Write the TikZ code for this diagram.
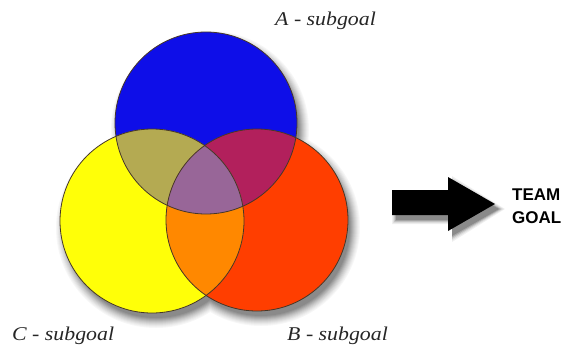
\documentclass[tikz,border=0pt]{standalone}
\usepackage{fontspec}
\newfontfamily\labfont{Liberation Serif}[FakeStretch=1.12]
\newfontfamily\goalfont{Liberation Sans}
\definecolor{cblue}{RGB}{14,14,232}
\definecolor{cyellow}{RGB}{255,255,8}
\definecolor{cred}{RGB}{255,62,0}
\definecolor{colive}{RGB}{180,170,82}
\definecolor{ccrimson}{RGB}{178,32,92}
\definecolor{corange}{RGB}{255,136,0}
\definecolor{cpurple}{RGB}{152,102,152}
\definecolor{cedge}{RGB}{70,55,40}
\tikzset{
  sublabel/.style={anchor=base west,inner sep=0pt,font=\labfont\itshape\fontsize{19.5}{22}\selectfont,text=black!85},
  goallabel/.style={anchor=base west,inner sep=0pt,font=\goalfont\bfseries\fontsize{17}{19}\selectfont},
  rim/.style={draw=cedge,line width=0.8pt}
}
\begin{document}
\begin{tikzpicture}[x=1pt,y=-1pt]
\useasboundingbox (0,0) rectangle (571,346);
\coordinate (A) at (206,123);
\coordinate (C) at (152,221);
\coordinate (B) at (257,220);
\def\ra{91}\def\rc{92}\def\rb{91}
% soft shadows
\foreach \k/\g in {8/3,7/6,6/9,5/13,4/17,3/21,2/26,1/31,0/36,-1/41,-2/46}{
  \fill[black!\g] ([shift={(4,7)}]A) circle[radius=\ra+\k];
  \fill[black!\g] ([shift={(4,7)}]C) circle[radius=\rc+\k];
  \fill[black!\g] ([shift={(4,7)}]B) circle[radius=\rb+\k];
}
% arrow shadow
\foreach \k/\g in {4/6,3/12,2/22,1/34,0/46}{
  \fill[black!\g] (392+4-\k,190+5-\k) -- (448+4,190+5-\k) -- (448+4,177+5-\k*1.5) -- (495+4+\k*1.5,204+5) -- (448+4,231+5+\k*1.5) -- (448+4,215+5+\k) -- (392+4-\k,215+5+\k) -- cycle;
}
% circles
\fill[cblue] (A) circle[radius=\ra];
\fill[cyellow] (C) circle[radius=\rc];
\fill[cred] (B) circle[radius=\rb];
\begin{scope}
  \clip (A) circle[radius=\ra];
  \fill[colive] (C) circle[radius=\rc];
  \fill[ccrimson] (B) circle[radius=\rb];
\end{scope}
\begin{scope}
  \clip (C) circle[radius=\rc];
  \fill[corange] (B) circle[radius=\rb];
  \clip (A) circle[radius=\ra];
  \fill[cpurple] (B) circle[radius=\rb];
\end{scope}
\draw[rim] (A) circle[radius=\ra];
\draw[rim] (C) circle[radius=\rc];
\draw[rim] (B) circle[radius=\rb];
% arrow
\fill[black] (392,190) -- (448,190) -- (448,177) -- (495,204) -- (448,231) -- (448,215) -- (392,215) -- cycle;
% labels
\node[sublabel] (la) at (275,25) {A - subgoal};
\node[sublabel] (lc) at (12,340) {C - subgoal};
\node[sublabel] (lb) at (287,340) {B - subgoal};
\node[goallabel] (team) at (512,200) {TEAM};
\node[goallabel] (goal) at (512,223) {GOAL};
\end{tikzpicture}
\end{document}
